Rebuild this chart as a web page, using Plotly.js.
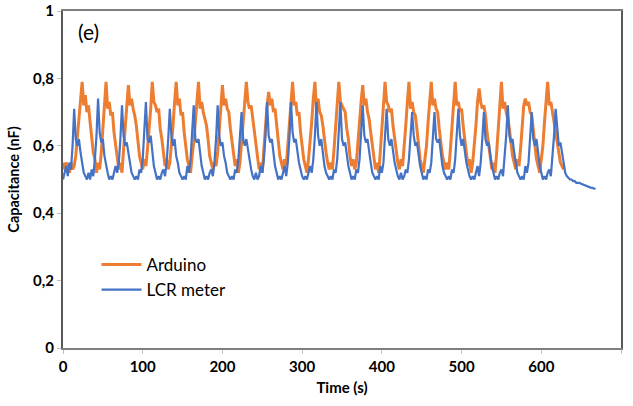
<!DOCTYPE html>
<html>
<head>
<meta charset="utf-8">
<script src="https://cdn.plot.ly/plotly-3.0.1.min.js"></script>
<style>html,body{margin:0;padding:0;background:#fff;}#chart{width:633px;height:406px;}</style>
</head>
<body>
<div id="chart"></div>
<script>
// Sampling step (s) of both recordings
const dt = 2;

// Arduino capacitance (nF), one value every dt seconds from t = 0
const arduino = [
0.55,0.53,0.55,0.54,0.52,0.55,0.53,0.54,0.57,0.62,0.67,0.73,
0.79,0.72,0.75,0.70,0.72,0.67,0.63,0.58,0.56,0.52,0.55,0.53,0.58,0.65,0.72,
0.79,0.71,0.73,0.69,0.70,0.64,0.60,0.56,0.53,0.55,0.52,0.59,0.66,0.74,
0.78,0.72,0.74,0.71,0.69,0.66,0.61,0.57,0.55,0.53,0.56,0.54,0.59,0.64,0.71,
0.79,0.73,0.72,0.70,0.71,0.65,0.62,0.58,0.54,0.56,0.53,0.55,0.60,0.66,0.73,
0.79,0.72,0.74,0.69,0.70,0.64,0.59,0.56,0.54,0.52,0.57,0.61,0.67,0.74,
0.79,0.71,0.73,0.70,0.68,0.66,0.62,0.57,0.55,0.53,0.55,0.54,0.58,0.65,0.72,
0.78,0.72,0.74,0.71,0.70,0.65,0.61,0.58,0.54,0.56,0.52,0.55,0.61,0.67,0.73,
0.79,0.73,0.71,0.72,0.68,0.64,0.60,0.56,0.53,0.55,0.52,0.59,0.66,0.72,
0.76,0.72,0.74,0.70,0.71,0.66,0.62,0.57,0.55,0.53,0.56,0.54,0.60,0.66,0.73,
0.79,0.72,0.73,0.69,0.70,0.64,0.59,0.56,0.54,0.52,0.56,0.61,0.67,0.74,
0.79,0.71,0.74,0.70,0.69,0.66,0.61,0.58,0.55,0.53,0.55,0.53,0.59,0.65,0.72,
0.79,0.73,0.72,0.71,0.70,0.65,0.62,0.57,0.54,0.56,0.53,0.55,0.60,0.67,0.73,
0.78,0.72,0.74,0.70,0.68,0.64,0.60,0.56,0.53,0.55,0.52,0.58,0.65,0.72,
0.79,0.73,0.72,0.70,0.71,0.66,0.62,0.58,0.55,0.53,0.56,0.54,0.59,0.66,0.73,
0.79,0.71,0.73,0.70,0.69,0.65,0.60,0.56,0.54,0.52,0.56,0.60,0.67,0.73,
0.79,0.72,0.74,0.71,0.70,0.65,0.61,0.57,0.55,0.53,0.55,0.53,0.59,0.65,0.72,
0.79,0.72,0.73,0.70,0.71,0.66,0.62,0.58,0.54,0.56,0.52,0.55,0.60,0.66,0.73,
0.77,0.73,0.71,0.72,0.69,0.64,0.60,0.56,0.53,0.55,0.52,0.58,0.65,0.72,
0.79,0.71,0.73,0.70,0.68,0.65,0.61,0.57,0.55,0.53,0.56,0.54,0.59,0.66,0.72,
0.74,0.72,0.73,0.70,0.69,0.64,0.60,0.56,0.54,0.52,0.56,0.60,0.67,0.74,
0.79,0.72,0.73,0.70,0.67,0.64,0.60,0.57,0.55,0.54,0.53
];

// LCR meter capacitance (nF), one value every dt seconds from t = 0
const lcr = [
0.50,0.52,0.54,0.51,0.55,0.53,0.60,
0.71,0.62,0.60,0.62,0.58,0.55,0.52,0.51,0.50,0.52,0.50,0.53,0.51,0.56,0.63,
0.74,0.64,0.61,0.62,0.57,0.54,0.52,0.50,0.51,0.50,0.52,0.54,0.52,0.55,0.62,
0.72,0.63,0.60,0.61,0.58,0.55,0.52,0.51,0.50,0.51,0.50,0.53,0.52,0.56,0.63,
0.73,0.62,0.61,0.63,0.58,0.54,0.52,0.50,0.51,0.50,0.52,0.53,0.51,0.55,0.62,
0.71,0.63,0.60,0.62,0.57,0.55,0.52,0.51,0.50,0.51,0.50,0.54,0.52,0.56,0.63,
0.72,0.62,0.61,0.62,0.58,0.54,0.52,0.50,0.51,0.50,0.52,0.53,0.51,0.55,0.62,
0.72,0.63,0.60,0.61,0.57,0.55,0.52,0.51,0.50,0.51,0.50,0.53,0.52,0.56,0.63,
0.70,0.62,0.60,0.62,0.59,0.55,0.53,0.51,0.50,0.52,0.50,0.51,0.54,0.52,0.56,0.63,
0.73,0.63,0.61,0.62,0.58,0.54,0.52,0.50,0.51,0.50,0.52,0.54,0.51,0.55,0.62,
0.73,0.64,0.61,0.62,0.58,0.55,0.53,0.51,0.50,0.51,0.50,0.52,0.54,0.52,0.56,0.63,
0.73,0.63,0.60,0.62,0.57,0.54,0.52,0.51,0.50,0.51,0.50,0.53,0.52,0.56,0.63,
0.73,0.62,0.60,0.61,0.57,0.54,0.52,0.50,0.51,0.50,0.53,0.52,0.56,0.63,
0.72,0.63,0.61,0.62,0.58,0.55,0.52,0.51,0.50,0.51,0.50,0.54,0.52,0.55,0.62,
0.71,0.62,0.60,0.62,0.58,0.55,0.53,0.51,0.50,0.52,0.50,0.51,0.53,0.52,0.56,0.63,
0.70,0.63,0.60,0.61,0.57,0.54,0.52,0.50,0.51,0.50,0.53,0.52,0.55,0.62,
0.70,0.62,0.61,0.62,0.58,0.54,0.52,0.51,0.50,0.51,0.50,0.53,0.52,0.56,0.63,
0.71,0.63,0.60,0.62,0.58,0.55,0.53,0.51,0.50,0.51,0.50,0.52,0.54,0.51,0.55,0.62,
0.70,0.62,0.60,0.61,0.57,0.54,0.52,0.50,0.51,0.50,0.52,0.53,0.51,0.56,0.63,
0.72,0.63,0.61,0.62,0.58,0.55,0.52,0.51,0.50,0.51,0.50,0.54,0.52,0.55,0.62,
0.70,0.62,0.60,0.62,0.57,0.54,0.52,0.50,0.51,0.50,0.52,0.53,0.51,0.56,0.63,
0.71,0.64,0.60,0.61,0.58,0.56,0.52,0.51,0.505,0.50,0.50,0.495,0.495,0.49,0.49,0.49,
0.487,0.485,0.483,0.48,0.48,0.478,0.476,0.475,0.473,0.472
];

const seriesNames = ["Arduino", "LCR meter"];
const xTicks = [0,100,200,300,400,500,600,700];
const yTicks = [0,0.2,0.4,0.6,0.8,1];
const yTickText = ["0","0,2","0,4","0,6","0,8","1"];

const tArduino = arduino.map((_, i) => i * dt);
const tLcr = lcr.map((_, i) => i * dt);

const traces = [
  {x: tArduino, y: arduino, type: "scatter", mode: "lines", name: seriesNames[0],
   line: {color: "#ED7D31", width: 3}},
  {x: tLcr, y: lcr, type: "scatter", mode: "lines", name: seriesNames[1],
   line: {color: "#4472C4", width: 2.2}}
];

const fam = "Lato, 'Open Sans', sans-serif";
const tickFont = {family: fam, size: 15, color: "#000", weight: "bold"};

const layout = {
  width: 633, height: 406,
  margin: {l: 63, r: 12, t: 11, b: 58},
  paper_bgcolor: "#fff", plot_bgcolor: "#fff",
  showlegend: true,
  legend: {x: 0.06, y: 0.3, xanchor: "left", yanchor: "top", bgcolor: "rgba(0,0,0,0)",
           font: {family: fam, size: 17, color: "#000"},
           tracegroupgap: 0, itemwidth: 40},
  xaxis: {range: [0, 700], tickvals: xTicks, ticktext: xTicks.map(String), showgrid: false, zeroline: false,
          showline: true, linecolor: "#7f7f7f", linewidth: 2, mirror: true,
          ticks: "outside", ticklen: 4, tickcolor: "#bfbfbf", tickfont: tickFont,
          title: {text: "Time (s)", font: {family: fam, size: 15, color: "#000", weight: "bold"}, standoff: 8}},
  yaxis: {range: [0, 1], tickvals: yTicks, ticktext: yTickText, showgrid: false, zeroline: false,
          showline: true, linecolor: "#595959", linewidth: 2, mirror: true,
          ticks: "outside", ticklen: 4, tickcolor: "#bfbfbf", tickfont: tickFont,
          title: {text: "Capacitance (nF)", font: {family: fam, size: 14.5, color: "#000", weight: "bold"}, standoff: 10}},
  annotations: [{text: "(e)", xref: "paper", yref: "paper", x: 0.024, y: 0.94, xanchor: "left", yanchor: "middle",
                 showarrow: false, font: {family: fam, size: 21, color: "#000"}}]
};

Plotly.newPlot("chart", traces, layout, {displayModeBar: false, staticPlot: true});
</script>
</body>
</html>
